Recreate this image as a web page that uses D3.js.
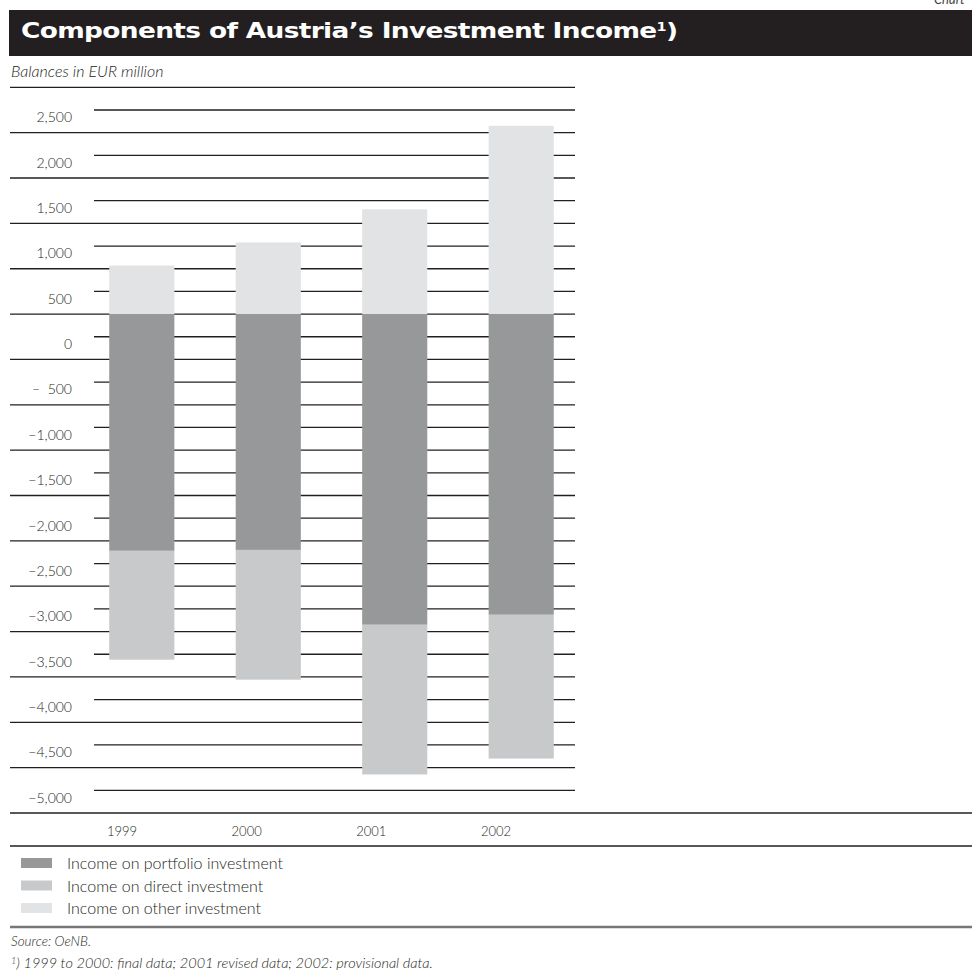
<!DOCTYPE html>
<html>
<head>
<meta charset="utf-8">
<script src="https://cdn.jsdelivr.net/npm/d3@7"></script>
<style>
  html, body { margin: 0; padding: 0; background: #fff; }
  svg { display: block; }
  text { font-family: "Lato", "Open Sans", sans-serif; fill: #231f20; }
</style>
</head>
<body>
<svg id="chart" width="972" height="976"></svg>
<script>
// Balances in EUR million
const years = ["1999", "2000", "2001", "2002"];
const portfolio = [-2610, -2600, -3425, -3315];
const direct = [-1200, -1430, -1650, -1585];
const other = [535, 790, 1155, 2075];

const seriesKeys = ["portfolio", "direct", "other"];
const seriesNames = ["Income on portfolio investment", "Income on direct investment", "Income on other investment"];
const seriesColors = ["#97989a", "#c8c9cb", "#e2e3e5"];

const yTickValues = [2500, 2000, 1500, 1000, 500, 0, -500, -1000, -1500, -2000, -2500, -3000, -3500, -4000, -4500, -5000];
const yTickLabels = ["2,500", "2,000", "1,500", "1,000", "500", "0", "\u2013  500", "\u22121,000", "\u22121,500", "\u22122,000", "\u22122,500", "\u22123,000", "\u22123,500", "\u22124,000", "\u22124,500", "\u22125,000"];

const rows = years.map((yr, i) => ({ year: yr, portfolio: portfolio[i], direct: direct[i], other: other[i] }));

const svg = d3.select("#chart");

// Scales
const y = d3.scaleLinear().domain([-5500, 2500]).range([813, 87.3]);
const x = d3.scaleBand().domain(years).range([46, 617]).paddingInner(0.485).paddingOuter(0.5);
const xLabel = d3.scalePoint().domain(years).range([122, 496]);

// Header
svg.append("text").attr("x", 934).attr("y", 4)
  .style("font-size", "13px").style("font-style", "italic").style("fill", "#444").text("Chart");
svg.append("rect").attr("x", 9).attr("y", 10).attr("width", 963).attr("height", 46).attr("fill", "#231f20");
const title = svg.append("g").attr("transform", "translate(21,38) scale(1.2,1)")
  .append("text").attr("x", 0).attr("y", 0)
  .attr("textLength", 657 / 1.2).attr("lengthAdjust", "spacing")
  .style("font-family", "'DejaVu Sans', 'Open Sans', sans-serif")
  .style("font-weight", 900).style("font-size", "22px").style("fill", "#fff");
title.append("tspan").text("Components of Austria\u2019s Investment Income");
title.append("tspan").attr("dy", -7).style("font-size", "12px").text("1");
title.append("tspan").attr("dy", 7).text(")");

svg.append("text").attr("x", 11).attr("y", 77)
  .style("font-size", "16px").style("font-style", "italic").style("font-weight", 300).text("Balances in EUR million");

// Grid: long rules on the 500 steps, short rules in between
const gridVals = d3.range(2500, -5251, -250);
svg.append("g").selectAll("line").data(gridVals).join("line")
  .attr("x1", d => (d % 500 === 0 ? 10 : 94))
  .attr("x2", 575)
  .attr("y1", d => y(d)).attr("y2", d => y(d))
  .attr("stroke", "#231f20").attr("stroke-width", 1.3);

// Y labels sit beneath their rules
svg.append("g").selectAll("text").data(yTickValues).join("text")
  .attr("x", 72).attr("y", d => y(d) + 35)
  .attr("text-anchor", "end")
  .style("font-size", "14px").style("font-weight", 300)
  .style("white-space", "pre")
  .text((d, i) => yTickLabels[i]);

// Stacked bars
const stack = d3.stack().keys(seriesKeys).offset(d3.stackOffsetDiverging);
const layers = stack(rows);
svg.append("g").selectAll("g").data(layers).join("g")
  .attr("fill", (d, i) => seriesColors[i])
  .selectAll("rect").data(d => d).join("rect")
  .attr("x", d => x(d.data.year))
  .attr("width", x.bandwidth())
  .attr("y", d => y(Math.max(d[0], d[1])))
  .attr("height", d => Math.abs(y(d[0]) - y(d[1])));

// Bottom rule and years
svg.append("line").attr("x1", 10).attr("x2", 972).attr("y1", y(-5500)).attr("y2", y(-5500))
  .attr("stroke", "#231f20").attr("stroke-width", 1.3);
svg.append("g").selectAll("text").data(years).join("text")
  .attr("x", d => xLabel(d)).attr("y", 836)
  .attr("text-anchor", "middle")
  .style("font-size", "13px").style("font-weight", 300).text(d => d);
svg.append("line").attr("x1", 10).attr("x2", 972).attr("y1", 846).attr("y2", 846)
  .attr("stroke", "#231f20").attr("stroke-width", 1.3);

// Legend
const legend = svg.append("g").selectAll("g").data(seriesKeys).join("g")
  .attr("transform", (d, i) => `translate(0, ${858 + i * 22.5})`);
legend.append("rect").attr("x", 21).attr("y", 0).attr("width", 31).attr("height", 10)
  .attr("fill", (d, i) => seriesColors[i]);
legend.append("text").attr("x", 67).attr("y", 11)
  .style("font-size", "16px").style("font-weight", 300)
  .text((d, i) => seriesNames[i]);

svg.append("line").attr("x1", 10).attr("x2", 972).attr("y1", 927).attr("y2", 927)
  .attr("stroke", "#777").attr("stroke-width", 2.5);

// Notes
svg.append("text").attr("x", 11).attr("y", 946)
  .style("font-size", "13.5px").style("font-style", "italic").style("font-weight", 300).text("Source: OeNB.");
const note = svg.append("text").attr("x", 11).attr("y", 968)
  .style("font-size", "14.5px").style("font-style", "italic").style("font-weight", 300);
note.append("tspan").attr("dy", -4).style("font-size", "9px").text("1");
note.append("tspan").attr("dy", 4).text(") 1999 to 2000: final data; 2001 revised data; 2002: provisional data.");
</script>
</body>
</html>
